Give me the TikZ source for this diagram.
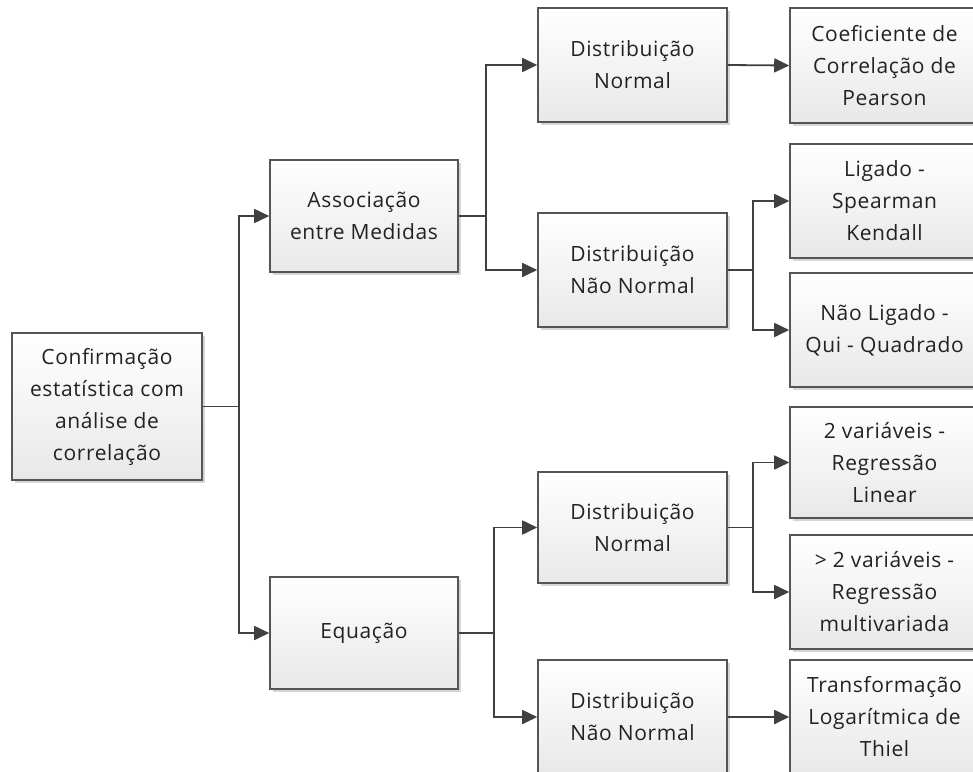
\documentclass[tikz,border=0pt]{standalone}
\usepackage{fontspec}
\setmainfont[LetterSpace=3]{Open Sans}
\usetikzlibrary{arrows.meta,shadows}

\definecolor{boxline}{HTML}{555555}
\definecolor{connline}{HTML}{404040}
\definecolor{txt}{HTML}{222222}

\tikzset{
  box/.style={
    draw=boxline, line width=1.6pt,
    top color=white, bottom color=black!9,
    text=txt, align=center, inner sep=0pt,
    font=\fontsize{21}{32}\selectfont,
    drop shadow={shadow xshift=2.5pt, shadow yshift=-2.5pt, fill=black, opacity=0.16}
  },
  link/.style={draw=connline, line width=1.8pt},
  arrowlink/.style={link, -{Triangle[length=15pt, width=14pt]}}
}

\begin{document}
\begin{tikzpicture}[x=1pt, y=-1pt]
  \useasboundingbox (0,0) rectangle (973,771);
  \clip (0,0) rectangle (973,771);

  % root
  \node[box, minimum width=190pt, minimum height=147pt] (root) at (107,406.5)
    {Confirmação\\estatística com\\análise de\\correlação};

  % second level
  \node[box, minimum width=188pt, minimum height=112pt] (assoc) at (364,216)
    {Associação\\entre Medidas};
  \node[box, minimum width=188pt, minimum height=112pt] (equ) at (364,633)
    {Equação};

  % third level
  \node[box, minimum width=189pt, minimum height=114pt] (dn1) at (632.5,65)
    {Distribuição\\Normal};
  \node[box, minimum width=189pt, minimum height=114pt] (dnn1) at (632.5,270)
    {Distribuição\\Não Normal};
  \node[box, minimum width=189pt, minimum height=111pt] (dn2) at (632.5,527.5)
    {Distribuição\\Normal};
  \node[box, minimum width=189pt, minimum height=114pt] (dnn2) at (632.5,717)
    {Distribuição\\Não Normal};

  % leaves
  \node[box, minimum width=189pt, minimum height=115pt] (pearson) at (884.5,65.5)
    {Coeficiente de\\Correlação de\\Pearson};
  \node[box, minimum width=189pt, minimum height=114pt] (ligado) at (884.5,201)
    {Ligado -\\Spearman\\Kendall};
  \node[box, minimum width=189pt, minimum height=114pt] (naolig) at (884.5,330)
    {Não Ligado -\\Qui - Quadrado};
  \node[box, minimum width=189pt, minimum height=111pt] (reglin) at (884.5,462.5)
    {2 variáveis -\\Regressão\\Linear};
  \node[box, minimum width=189pt, minimum height=114pt] (regmult) at (884.5,592)
    {> 2 variáveis -\\Regressão\\multivariada};
  \node[box, minimum width=189pt, minimum height=114pt] (thiel) at (884.5,717)
    {Transformação\\Logarítmica de\\Thiel};

  % branch points
  \coordinate (j1) at (239,406.5);
  \coordinate (j2) at (486,216);
  \coordinate (j3) at (494,633);
  \coordinate (j4) at (753,270);
  \coordinate (j5) at (753,527.5);

  % connectors
  \draw[link] (root.east) -- (j1);
  \draw[arrowlink] (j1) |- (assoc.west);
  \draw[arrowlink] (j1) |- (equ.west);

  \draw[link] (assoc.east) -- (j2);
  \draw[arrowlink] (j2) |- (dn1.west);
  \draw[arrowlink] (j2) |- (dnn1.west);

  \draw[link] (equ.east) -- (j3);
  \draw[arrowlink] (j3) |- (dn2.west);
  \draw[arrowlink] (j3) |- (dnn2.west);

  \draw[arrowlink] (dn1.east) -- (pearson.west);

  \draw[link] (dnn1.east) -- (j4);
  \draw[arrowlink] (j4) |- (ligado.west);
  \draw[arrowlink] (j4) |- (naolig.west);

  \draw[link] (dn2.east) -- (j5);
  \draw[arrowlink] (j5) |- (reglin.west);
  \draw[arrowlink] (j5) |- (regmult.west);

  \draw[arrowlink] (dnn2.east) -- (thiel.west);
\end{tikzpicture}
\end{document}
